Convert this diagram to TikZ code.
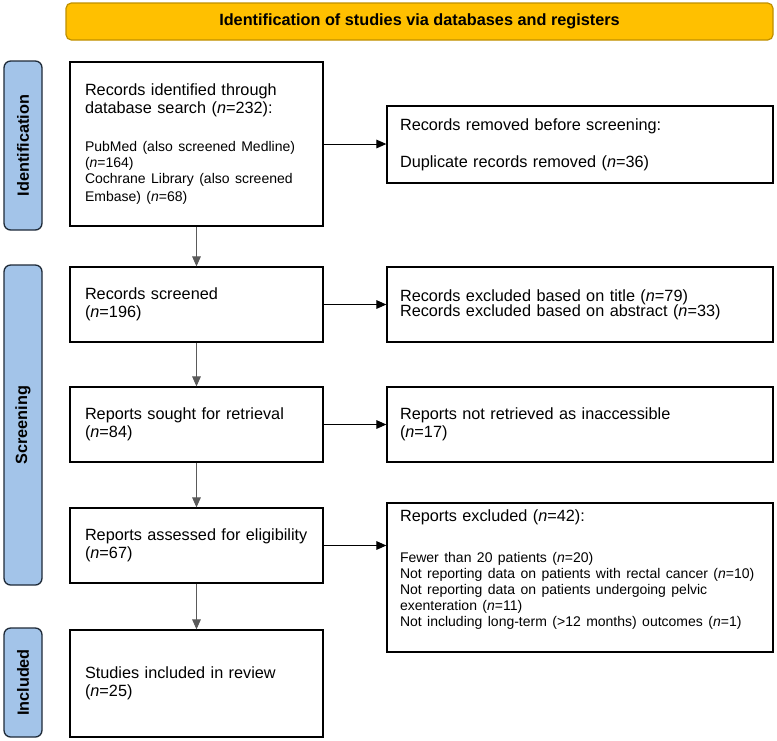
\documentclass[tikz,border=0pt]{standalone}
\usepackage{fontspec}
\setmainfont{Liberation Sans}
\usetikzlibrary{arrows.meta}
\setlength{\parindent}{0pt}

\definecolor{bannergold}{HTML}{FFC000}
\definecolor{bannerline}{HTML}{BF9000}
\definecolor{phaseblue}{HTML}{A3C4E9}
\definecolor{phaseline}{HTML}{1E2A38}
\definecolor{downgray}{HTML}{5A5A5A}

\newcommand{\bigtxt}{\fontsize{12.2}{13.5}\selectfont}
\newcommand{\smalltxt}{\fontsize{10.5}{12}\selectfont}

\begin{document}
\begin{tikzpicture}[x=0.75pt,y=-0.75pt]
\useasboundingbox (0,0) rectangle (777,740);

% banner
\node[draw=bannerline, fill=bannergold, line width=0.9pt, rounded corners=4pt,
      minimum width=530.25pt, minimum height=27.75pt, font=\bigtxt\bfseries]
      (banner) at (419.5,21.5) {Identification of studies via databases and registers};

% phase labels
\begin{scope}[every node/.style={draw=phaseline, fill=phaseblue, line width=1pt,
              rounded corners=5pt, rotate=90, minimum height=28.5pt,
              inner sep=0pt, font=\bigtxt\bfseries}]
    \node[minimum width=126.75pt] (idlab) at (23,145.5) {Identification};
    \node[minimum width=240pt] (scrlab) at (23,425) {Screening};
    \node[minimum width=81.75pt] (inclab) at (23,682.5) {Included};
\end{scope}

% flow boxes
\begin{scope}[every node/.style={draw, line width=1pt, align=left, inner ysep=0pt, font=\bigtxt},
              leftbox/.style={inner xsep=11.25pt, text width=167.25pt, minimum height=56.25pt},
              rightbox/.style={inner xsep=9.75pt, text width=270pt, minimum height=56.25pt}]
    \node[leftbox, minimum height=123pt] (ident) at (196.5,144)
        {Records identified through\\ database search (\textit{n}=232):\par
         \vspace{16.5pt}\smalltxt PubMed (also screened Medline)\\ (\textit{n}=164)\\
         Cochrane Library (also screened\\ Embase) (\textit{n}=68)};
    \node[rightbox, minimum height=57.75pt] (removed) at (580,144.5)
        {Records removed before screening:\\[14.25pt] Duplicate records removed (\textit{n}=36)};
    \node[leftbox] (screened) at (196.5,304.5) {Records screened\\ (\textit{n}=196)};
    \node[rightbox] (titleabs) at (580,304.5)
        {Records excluded based on title (\textit{n}=79)\\[-2pt]
         Records excluded based on abstract (\textit{n}=33)};
    \node[leftbox] (sought) at (196.5,424.5) {Reports sought for retrieval\\ (\textit{n}=84)};
    \node[rightbox] (notret) at (580,424.5) {Reports not retrieved as inaccessible\\ (\textit{n}=17)};
    \node[leftbox] (assess) at (196.5,545.5) {Reports assessed for eligibility\\ (\textit{n}=67)};
    \node[rightbox, minimum height=111.75pt] (repexcl) at (580,577.5)
        {Reports excluded (\textit{n}=42):\par
         \vspace{18.75pt}\smalltxt Fewer than 20 patients (\textit{n}=20)\\
         Not reporting data on patients with rectal cancer (\textit{n}=10)\\
         Not reporting data on patients undergoing pelvic\\
         exenteration (\textit{n}=11)\\
         Not including long-term (>12 months) outcomes (\textit{n}=1)\par
         \vspace{11.25pt}\hrule height 0pt width 0pt};
    \node[leftbox, minimum height=80.25pt] (review) at (196.5,683.5) {Studies included in review\\ (\textit{n}=25)};
\end{scope}

% arrows
\begin{scope}[>={Triangle[length=7.5pt,width=6.5pt]},
              every edge/.style={draw=black, line width=0.75pt}]
    \path [->] (ident.east) edge (ident.east -| removed.west);
    \path [->] (screened.east) edge (screened.east -| titleabs.west);
    \path [->] (sought.east) edge (sought.east -| notret.west);
    \path [->] (assess.east) edge (assess.east -| repexcl.west);
    \path [->] (ident) edge[downgray] (screened);
    \path [->] (screened) edge[downgray] (sought);
    \path [->] (sought) edge[downgray] (assess);
    \path [->] (assess) edge[downgray] (review);
\end{scope}
\end{tikzpicture}
\end{document}
